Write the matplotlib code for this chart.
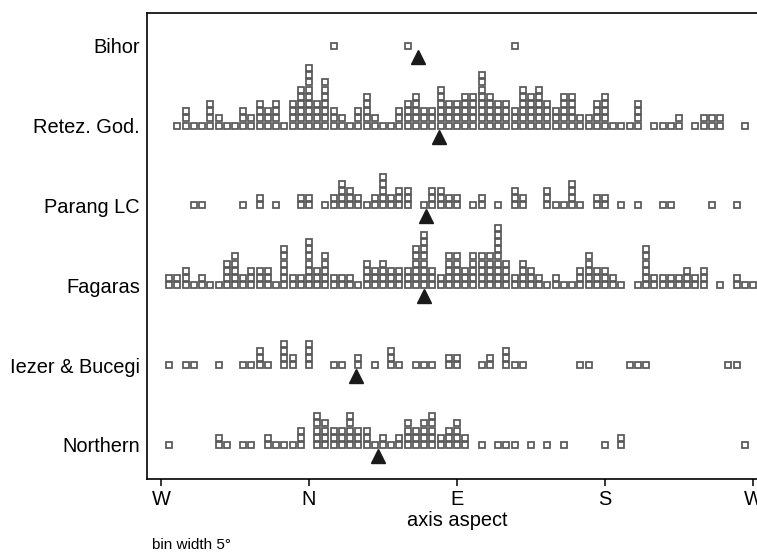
import matplotlib
matplotlib.use("Agg")
import matplotlib.pyplot as plt
import numpy as np

plt.rcParams['font.family'] = ['Liberation Sans', 'DejaVu Sans']

# ---------------- data ----------------
regions = ["Northern", "Iezer & Bucegi", "Fagaras", "Parang LC", "Retez. God.", "Bihor"]
bin_width = 5
n_bins = 72
# axis position of bin k (k = 1..72) is k*5 degrees, W = 0, N = 90, E = 180, S = 270, W = 360

def counts_from(d):
    c = [0] * n_bins
    for k, v in d.items():
        c[k - 1] = v
    return c

counts_bihor = counts_from({21: 1, 30: 1, 43: 1})

counts_retez = counts_from({
    2: 1, 3: 3, 4: 1, 5: 1, 6: 4, 7: 2, 8: 1, 9: 1, 10: 3, 11: 2, 12: 4, 13: 3,
    14: 4, 15: 1, 16: 4, 17: 6, 18: 9, 19: 4, 20: 7, 21: 3, 22: 2, 23: 1, 24: 3,
    25: 5, 26: 2, 27: 1, 28: 1, 29: 3, 30: 4, 31: 5, 32: 3, 33: 3, 34: 6, 35: 4,
    36: 4, 37: 5, 38: 5, 39: 8, 40: 5, 41: 4, 42: 4, 43: 3, 44: 6, 45: 5, 46: 6,
    47: 4, 48: 3, 49: 5, 50: 5, 51: 2, 52: 2, 53: 4, 54: 5, 55: 1, 56: 1, 57: 1,
    58: 4, 60: 1, 61: 1, 62: 1, 63: 2, 65: 1, 66: 2, 67: 2, 68: 2, 71: 1})

counts_parang = counts_from({
    4: 1, 5: 1, 10: 1, 12: 2, 14: 1, 17: 2, 18: 2, 20: 1, 21: 2, 22: 4, 23: 3,
    24: 2, 25: 1, 26: 2, 27: 5, 28: 2, 29: 3, 30: 3, 32: 1, 33: 3, 34: 3, 35: 2,
    36: 2, 38: 1, 39: 2, 41: 1, 43: 3, 44: 2, 47: 3, 48: 1, 49: 1, 50: 4, 51: 1,
    53: 2, 54: 2, 56: 1, 58: 1, 61: 1, 62: 1, 67: 1, 70: 1})

counts_fagaras = counts_from({
    1: 2, 2: 2, 3: 3, 4: 1, 5: 2, 6: 1, 7: 1, 8: 4, 9: 5, 10: 2, 11: 3, 12: 3,
    13: 3, 14: 1, 15: 6, 16: 2, 17: 2, 18: 7, 19: 3, 20: 5, 21: 2, 22: 2, 23: 2,
    24: 1, 25: 4, 26: 3, 27: 4, 28: 3, 29: 3, 30: 3, 31: 6, 32: 8, 33: 3, 34: 2,
    35: 5, 36: 5, 37: 3, 38: 5, 39: 5, 40: 5, 41: 9, 42: 4, 43: 2, 44: 4, 45: 3,
    46: 2, 47: 1, 48: 2, 49: 1, 50: 1, 51: 3, 52: 5, 53: 3, 54: 3, 55: 2, 56: 1,
    58: 1, 59: 6, 60: 2, 61: 2, 62: 2, 63: 2, 64: 3, 65: 2, 66: 3, 68: 1, 70: 2,
    71: 1, 72: 1})

counts_iezer = counts_from({
    1: 1, 3: 1, 4: 1, 7: 1, 10: 1, 11: 1, 12: 3, 13: 1, 15: 4, 16: 2, 18: 4,
    21: 1, 22: 1, 24: 2, 26: 1, 28: 3, 29: 1, 31: 1, 32: 1, 33: 1, 35: 2, 36: 2,
    39: 1, 40: 2, 42: 3, 43: 1, 44: 1, 51: 1, 52: 1, 57: 1, 58: 1, 59: 1, 69: 1,
    70: 1})

counts_northern = counts_from({
    1: 1, 7: 2, 8: 1, 10: 1, 11: 1, 13: 2, 14: 1, 15: 1, 16: 1, 17: 3, 19: 5,
    20: 4, 21: 3, 22: 3, 23: 5, 24: 3, 25: 3, 26: 1, 27: 2, 28: 1, 29: 2, 30: 4,
    31: 3, 32: 4, 33: 5, 34: 2, 35: 3, 36: 4, 37: 2, 39: 1, 41: 1, 42: 1, 43: 1,
    45: 1, 47: 1, 49: 1, 54: 1, 56: 2, 71: 1})

all_counts = [counts_northern, counts_iezer, counts_fagaras,
              counts_parang, counts_retez, counts_bihor]

# mean aspect (axis position, W = 0)
mean_aspect = [131.8, 118.4, 160.2, 161.2, 169.3, 156.5]

tick_pos = [0, 90, 180, 270, 360]
tick_labels = ["W", "N", "E", "S", "W"]

# ---------------- plot ----------------
W, H = 757, 554
fig = plt.figure(figsize=(W / 100, H / 100), dpi=100)
left_px, right_px, top_px, bot_px = 147, 767, 13, 479
ax = fig.add_axes([left_px / W, (H - bot_px) / H,
                   (right_px - left_px) / W, (bot_px - top_px) / H])

ax.set_xlim(-8.5, 368.5)
ax.set_ylim(0.574, 6.41)

dy = 0.0902
centres = np.arange(1, n_bins + 1) * bin_width
for i, cnts in enumerate(all_counts):
    base = i + 1
    xs, ys = [], []
    for c, n in zip(centres, cnts):
        for j in range(n):
            xs.append(c)
            ys.append(base + j * dy)
    ax.plot(xs, ys, linestyle='none', marker='s', markersize=3.9,
            markerfacecolor='white', markeredgecolor='#575757',
            markeredgewidth=1.25, clip_on=False)
    ax.plot([mean_aspect[i]], [base - 0.138], linestyle='none', marker='^',
            markersize=9.5, color='#1a1a1a')

ax.set_yticks(range(1, len(regions) + 1))
ax.set_yticklabels(regions, fontsize=14.4)
ax.tick_params(axis='y', length=0, pad=5)
ax.set_xticks(tick_pos)
ax.set_xticklabels(tick_labels, fontsize=14.4)
ax.tick_params(axis='x', length=5, width=1.1, direction='out', pad=3)
ax.set_xlabel("axis aspect", fontsize=14.4, labelpad=1)

for s in ['left', 'top', 'bottom']:
    ax.spines[s].set_linewidth(1.2)
ax.spines['right'].set_visible(False)

fig.text(152 / W, 1 - 545 / H, "bin width 5°", fontsize=11, va='center', ha='left')

fig.savefig("out.png", dpi=100)
